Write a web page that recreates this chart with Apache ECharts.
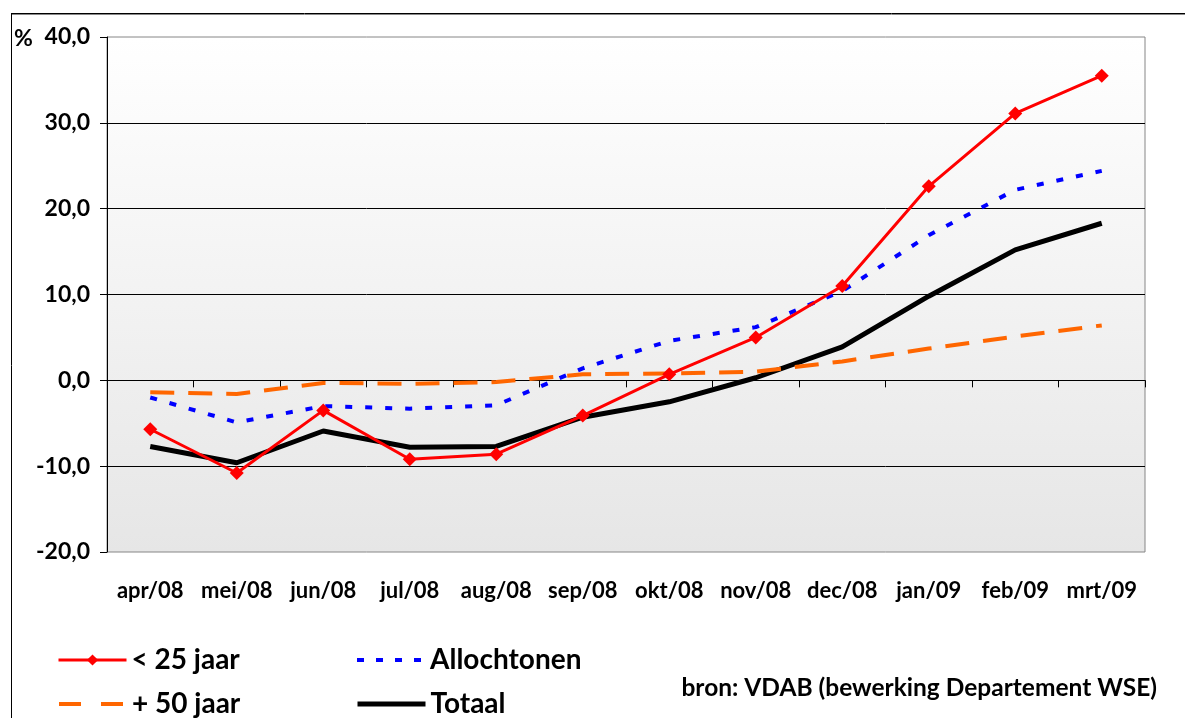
<!DOCTYPE html>
<html>
<head>
<meta charset="utf-8">
<script src="https://cdn.jsdelivr.net/npm/echarts@6/dist/echarts.min.js"></script>
<style>
  html, body { margin: 0; padding: 0; background: #fff; }
  #chart { width: 1185px; height: 718px; }
</style>
</head>
<body>
<div id="chart"></div>
<script>
// maanden (x-as)
const months = ['apr/08', 'mei/08', 'jun/08', 'jul/08', 'aug/08', 'sep/08', 'okt/08', 'nov/08', 'dec/08', 'jan/09', 'feb/09', 'mrt/09']
// procentuele evolutie per groep
const young = [-5.7, -10.8, -3.5, -9.2, -8.6, -4.1, 0.7, 5.0, 11.0, 22.6, 31.1, 35.5]
const allochtonen = [-2.0, -4.9, -3.0, -3.3, -2.9, 1.4, 4.6, 6.2, 10.4, 16.9, 22.2, 24.4]
const old = [-1.4, -1.6, -0.3, -0.4, -0.2, 0.7, 0.8, 1.0, 2.2, 3.7, 5.1, 6.4]
const totaal = [-7.7, -9.6, -5.9, -7.8, -7.7, -4.3, -2.5, 0.3, 3.9, 9.8, 15.2, 18.3]
const yTicks = { min: -20, max: 40, interval: 10 }

const font = 'Lato, "Open Sans", sans-serif'
const chart = echarts.init(document.getElementById('chart'))

const legendText = { fontFamily: font, fontWeight: 'bold', fontSize: 28, color: '#000' }
function legendAt(name, left, top, lineStyle, hideSymbol) {
  return {
    data: [name],
    left: left,
    top: top,
    itemWidth: 68,
    itemHeight: 14,
    selectedMode: false,
    lineStyle: lineStyle,
    itemStyle: hideSymbol ? { opacity: 0 } : {},
    textStyle: legendText
  }
}

const option = {
  animation: false,
  backgroundColor: '#fff',
  grid: {
    left: 107,
    right: 40,
    top: 37,
    bottom: 166,
    show: true,
    borderColor: '#868686',
    borderWidth: 1,
    backgroundColor: {
      type: 'linear', x: 0, y: 0, x2: 0, y2: 1,
      colorStops: [{ offset: 0, color: '#ffffff' }, { offset: 1, color: '#e6e6e6' }]
    }
  },
  xAxis: [
    {
      type: 'category',
      data: months,
      position: 'bottom',
      axisLine: { show: false, onZero: false },
      axisTick: { show: false },
      axisLabel: { interval: 0, fontFamily: font, fontWeight: 'bold', fontSize: 22, color: '#000', margin: 28 }
    },
    {
      type: 'category',
      data: months,
      position: 'top',
      axisLine: { show: true, onZero: true, lineStyle: { color: '#000', width: 1 } },
      axisTick: { show: true, inside: true, length: 7, lineStyle: { color: '#000' } },
      axisLabel: { show: false }
    }
  ],
  yAxis: {
    type: 'value',
    min: yTicks.min,
    max: yTicks.max,
    interval: yTicks.interval,
    axisLine: { show: true, lineStyle: { color: '#000', width: 1 } },
    axisTick: { show: true, length: 7, lineStyle: { color: '#000' } },
    axisLabel: {
      fontFamily: font, fontWeight: 'bold', fontSize: 23, color: '#000', margin: 17,
      formatter: v => v.toFixed(1).replace('.', ',')
    },
    splitLine: { show: true, showMinLine: false, showMaxLine: false, lineStyle: { color: '#000', width: 1 } }
  },
  legend: [
    legendAt('< 25 jaar', 52, 641, { width: 3 }, false),
    legendAt('Allochtonen', 350, 641, { width: 4, type: [7, 12] }, true),
    legendAt('+ 50 jaar', 52, 685, { width: 4, type: [22, 20] }, true),
    legendAt('Totaal', 350, 685, { width: 5 }, true)
  ],
  graphic: [
    { type: 'line', shape: { x1: 11, y1: 13.5, x2: 1185, y2: 13.5 }, style: { stroke: '#000', lineWidth: 1 } },
    { type: 'line', shape: { x1: 11, y1: 14.5, x2: 1185, y2: 14.5 }, style: { stroke: '#888', lineWidth: 1 } },
    { type: 'line', shape: { x1: 11.5, y1: 13, x2: 11.5, y2: 718 }, style: { stroke: '#000', lineWidth: 1 } },
    {
      type: 'text', left: 14, top: 27,
      style: { text: '%', fontFamily: font, fontWeight: 'bold', fontSize: 23, fill: '#000' }
    },
    {
      type: 'text', right: 28, top: 676,
      style: { text: 'bron: VDAB (bewerking Departement WSE)', fontFamily: font, fontWeight: 'bold', fontSize: 24.5, fill: '#000' }
    }
  ],
  series: [
    {
      name: 'Totaal', type: 'line', data: totaal, symbol: 'none',
      lineStyle: { color: '#000', width: 5 }, itemStyle: { color: '#000' }
    },
    {
      name: '+ 50 jaar', type: 'line', data: old, symbol: 'none',
      lineStyle: { color: '#ff6600', width: 4, type: [24, 14] }, itemStyle: { color: '#ff6600' }
    },
    {
      name: 'Allochtonen', type: 'line', data: allochtonen, symbol: 'none',
      lineStyle: { color: '#0000ff', width: 4, type: [7, 13] }, itemStyle: { color: '#0000ff' }
    },
    {
      name: '< 25 jaar', type: 'line', data: young, symbol: 'diamond', symbolSize: 14,
      lineStyle: { color: '#ff0000', width: 3 }, itemStyle: { color: '#ff0000' }
    }
  ]
}

chart.setOption(option)
</script>
</body>
</html>
